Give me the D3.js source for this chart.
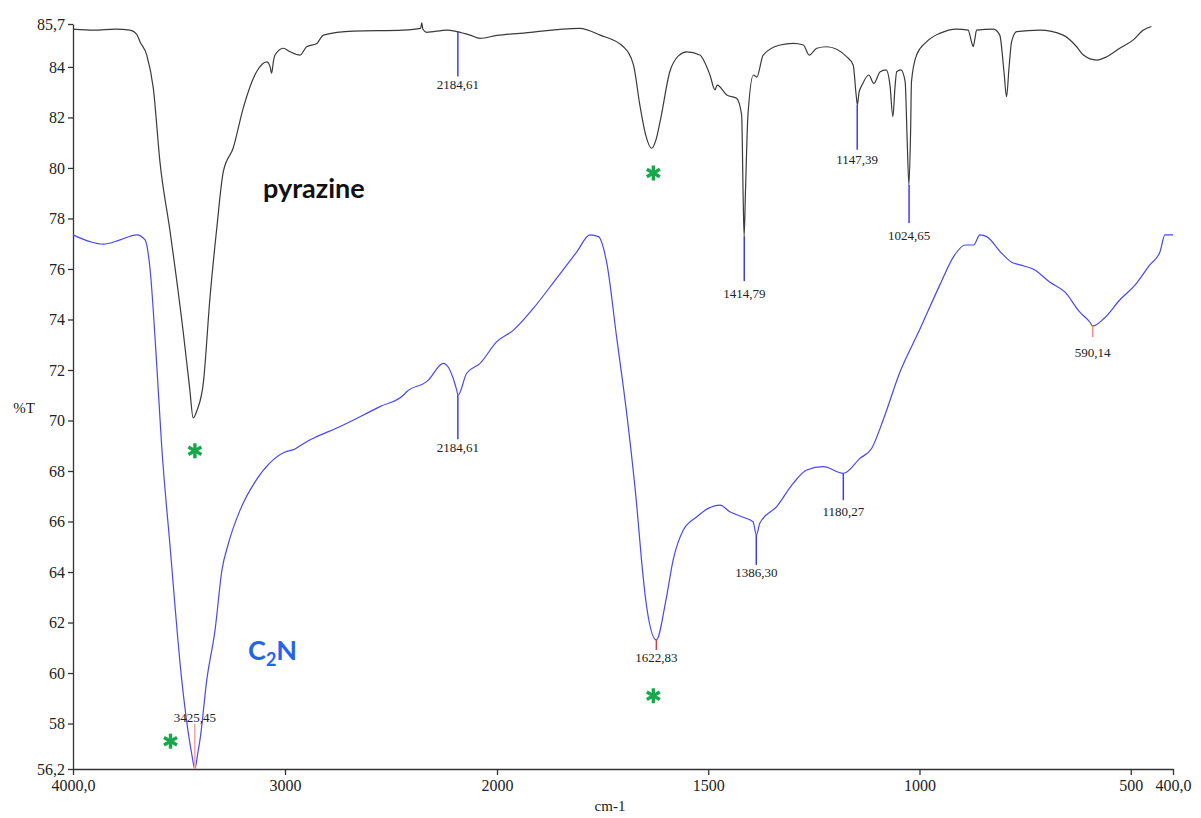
<!DOCTYPE html>
<html>
<head>
<meta charset="utf-8">
<script src="https://cdn.jsdelivr.net/npm/d3@7"></script>
<style>
  html, body { margin: 0; padding: 0; background: #fff; }
  svg { display: block; }
</style>
</head>
<body>
<svg id="chart" width="1201" height="818"></svg>
<script>
// ---------------- DATA ----------------
const pyrazineWn = [4000,3900,3800,3731,3700,3684,3652,3621,3590,3542,3480,3450,3433,3415,3385,3354,3322,3291,3244,3197,3134,3086,3070,3063,3055,3047,3008,2976,2929,2898,2850,2819,2678,2442,2360,2355,2350,2332,2237,2190,2127,2080,2000,1946,1804,1756,1701,1677,1662,1648,1634,1624,1614,1591,1570,1551,1520,1496,1484,1479,1456,1433,1421,1417,1415,1412,1406,1393,1385,1370,1330,1299,1275,1261,1243,1220,1172,1157,1150,1147,1143,1136,1120,1108,1093,1079,1070,1063,1058,1054,1044,1034,1029,1025,1021,1019,1007,983,952,912,885,877,873,869,865,825,810,800,794,788,782,770,715,660,628,612,581,557,526,494,470,451];
const pyrazineT = [85.50,85.46,85.50,85.46,85.30,85.00,84.47,83.15,80.25,77.48,73.50,71.30,70.10,70.40,71.50,74.85,77.60,79.85,80.80,82.37,83.81,84.20,84.00,83.75,84.20,84.47,84.74,84.60,84.47,84.80,84.93,85.26,85.42,85.46,85.53,85.75,85.50,85.37,85.46,85.40,85.26,85.13,85.25,85.33,85.53,85.26,84.80,84.08,82.50,81.30,80.78,81.10,81.83,83.81,84.45,84.60,84.47,83.68,83.09,83.28,82.89,82.76,82.10,78.50,77.30,79.00,82.10,83.68,83.60,84.47,84.87,84.93,84.87,84.47,84.74,84.80,84.40,84.08,82.90,82.50,83.00,83.28,83.68,83.35,83.81,83.88,83.30,82.03,83.20,83.81,83.88,83.42,81.00,79.32,81.50,83.42,84.47,85.00,85.33,85.50,85.46,85.00,84.80,85.10,85.46,85.50,85.26,83.80,82.82,84.00,85.00,85.40,85.46,85.26,84.80,84.47,84.27,84.40,84.74,85.07,85.46,85.60];

const c2nWn = [4000,3920,3857,3778,3700,3660,3637,3605,3582,3542,3487,3458,3440,3425,3412,3401,3369,3330,3297,3269,3212,3142,3071,3000,2953,2929,2898,2850,2756,2599,2552,2442,2426,2332,2324,2253,2190,2184,2143,2080,2001,1961,1914,1859,1811,1780,1760,1740,1717,1693,1669,1658,1648,1623,1600,1583,1559,1527,1500,1472,1449,1421,1394,1386,1378,1338,1299,1267,1228,1180,1141,1113,1086,1046,1000,952,917,892,872,857,841,806,782,762,727,692,656,621,597,590,562,526,490,455,431,419,400];
const c2nT = [77.35,77.08,76.98,77.15,77.35,77.15,76.04,72.20,69.03,65.00,59.72,57.74,56.80,56.20,56.80,57.35,59.72,61.70,64.10,65.07,66.45,67.56,68.32,68.75,68.87,69.00,69.16,69.36,69.70,70.35,70.55,71.00,71.14,71.54,71.60,72.26,71.20,71.00,71.87,72.26,73.12,73.58,74.44,75.63,76.68,77.35,77.28,76.22,73.32,70.28,66.59,64.48,62.90,61.31,62.90,64.48,65.66,66.19,66.52,66.65,66.39,66.19,65.99,65.47,65.93,66.59,67.51,68.04,68.17,67.91,68.50,68.90,70.02,71.93,73.58,75.36,76.55,76.95,76.95,77.35,77.28,76.63,76.27,76.16,75.96,75.48,75.09,74.30,73.90,73.74,74.06,74.77,75.36,76.16,76.67,77.35,77.35];

const yTicks = [85.7,84,82,80,78,76,74,72,70,68,66,64,62,60,58,56.2];
const xTicks = [4000,3000,2000,1500,1000,500,400];
const xTickLabels = ["4000,0","3000","2000","1500","1000","500","400,0"];

// peak annotations: wavenumber, %T at the tip, label text, series
const peakWn = [2184.61,1414.79,1147.39,1024.65,2184.61,1386.30,1180.27,1622.83,3425.45,590.14];
const peakT  = [85.40,77.30,82.50,79.32,71.00,65.47,67.91,61.31,56.20,73.74];
const peakText = ["2184,61","1414,79","1147,39","1024,65","2184,61","1386,30","1180,27","1622,83","3425,45","590,14"];
const peakSeries = ["pyrazine","pyrazine","pyrazine","pyrazine","C2N","C2N","C2N","C2N","C2N","C2N"];

// asterisk markers (wavenumber, %T)
const starWn = [3425,1630,3540,1630];
const starT  = [68.8,79.8,57.3,59.1];

// ---------------- STYLE ----------------
const peakLen   = [45,45,45,38,44,30,27,10,-45,11];   // px, negative = line goes up
const peakColor = ["#3b3bff","#3b3bff","#3b3bff","#3b3bff","#3b3bff","#3b3bff","#3b3bff","#e23a3a","#f5a3a3","#f08a8a"];
const peakGap   = [8,12,10,12,8,8,11,8,-7,15];

const svg = d3.select("#chart");
const x = d3.scaleLinear().domain([4000,2000,400]).range([73,497,1173]);
const y = d3.scaleLinear().domain([56.2,85.7]).range([769,24]);

const line = d3.line().x(d => x(d[0])).y(d => y(d[1])).curve(d3.curveMonotoneX);

// axes
const fmtY = d => Number.isInteger(d) ? String(d) : d.toFixed(1).replace(".", ",");
const yAxis = svg.append("g").attr("transform","translate(73,0)")
  .call(d3.axisLeft(y).tickValues(yTicks).tickFormat(fmtY).tickSize(5).tickSizeOuter(0).tickPadding(3));
const xAxis = svg.append("g").attr("transform","translate(0,769)")
  .call(d3.axisBottom(x).tickValues(xTicks).tickFormat((d,i) => xTickLabels[i]).tickSize(6).tickSizeOuter(0).tickPadding(5));
[yAxis, xAxis].forEach(g => {
  g.selectAll("text").attr("font-family","'Liberation Serif', serif").attr("font-size",16).attr("fill","#222");
  g.selectAll("line,path").attr("stroke","#333").attr("stroke-width",1.3);
});

svg.append("text").attr("x",24).attr("y",413).attr("text-anchor","middle")
  .attr("font-family","'Liberation Serif', serif").attr("font-size",15).attr("fill","#222").text("%T");
svg.append("text").attr("x",610).attr("y",811).attr("text-anchor","middle")
  .attr("font-family","'Liberation Serif', serif").attr("font-size",15).attr("fill","#222").text("cm-1");

// curves
svg.append("path").datum(pyrazineWn.map((w,i)=>[w,pyrazineT[i]]))
  .attr("d", line).attr("fill","none").attr("stroke","#3a3a3a").attr("stroke-width",1.2);
svg.append("path").datum(c2nWn.map((w,i)=>[w,c2nT[i]]))
  .attr("d", line).attr("fill","none").attr("stroke","#4646ff").attr("stroke-width",1.2);

// peak annotations
peakWn.forEach((w,i) => {
  const px = x(w), py = y(peakT[i]);
  const ey = py + peakLen[i];
  svg.append("line").attr("x1",px).attr("x2",px).attr("y1",py).attr("y2",ey)
    .attr("stroke",peakColor[i]).attr("stroke-width",1.5);
  svg.append("text").attr("x",px).attr("y",ey + peakGap[i]).attr("text-anchor","middle")
    .attr("dominant-baseline","central")
    .attr("font-family","'Liberation Serif', serif").attr("font-size",13).attr("fill","#222")
    .text(peakText[i]);
});

// asterisks
starWn.forEach((w,i) => {
  const cx = x(w), cy = y(starT[i]);
  const g = svg.append("g").attr("transform",`translate(${cx},${cy})`);
  [90,30,150].forEach(a => {
    const r = 7.5, t = a*Math.PI/180;
    g.append("line").attr("x1",-r*Math.cos(t)).attr("y1",-r*Math.sin(t))
      .attr("x2",r*Math.cos(t)).attr("y2",r*Math.sin(t))
      .attr("stroke","#17a84b").attr("stroke-width",3.4).attr("stroke-linecap","butt");
  });
});

// series names
svg.append("text").attr("x",263).attr("y",198)
  .attr("font-family","Lato, 'Open Sans', sans-serif").attr("font-weight","bold").attr("font-size",27).attr("fill","#111")
  .text("pyrazine");
const c2 = svg.append("text").attr("x",248).attr("y",660)
  .attr("font-family","Lato, 'Open Sans', sans-serif").attr("font-weight","bold").attr("font-size",27).attr("fill","#2563eb");
c2.append("tspan").text("C");
c2.append("tspan").attr("font-size",18).attr("dy",6).text("2");
c2.append("tspan").attr("dy",-6).text("N");
</script>
</body>
</html>
